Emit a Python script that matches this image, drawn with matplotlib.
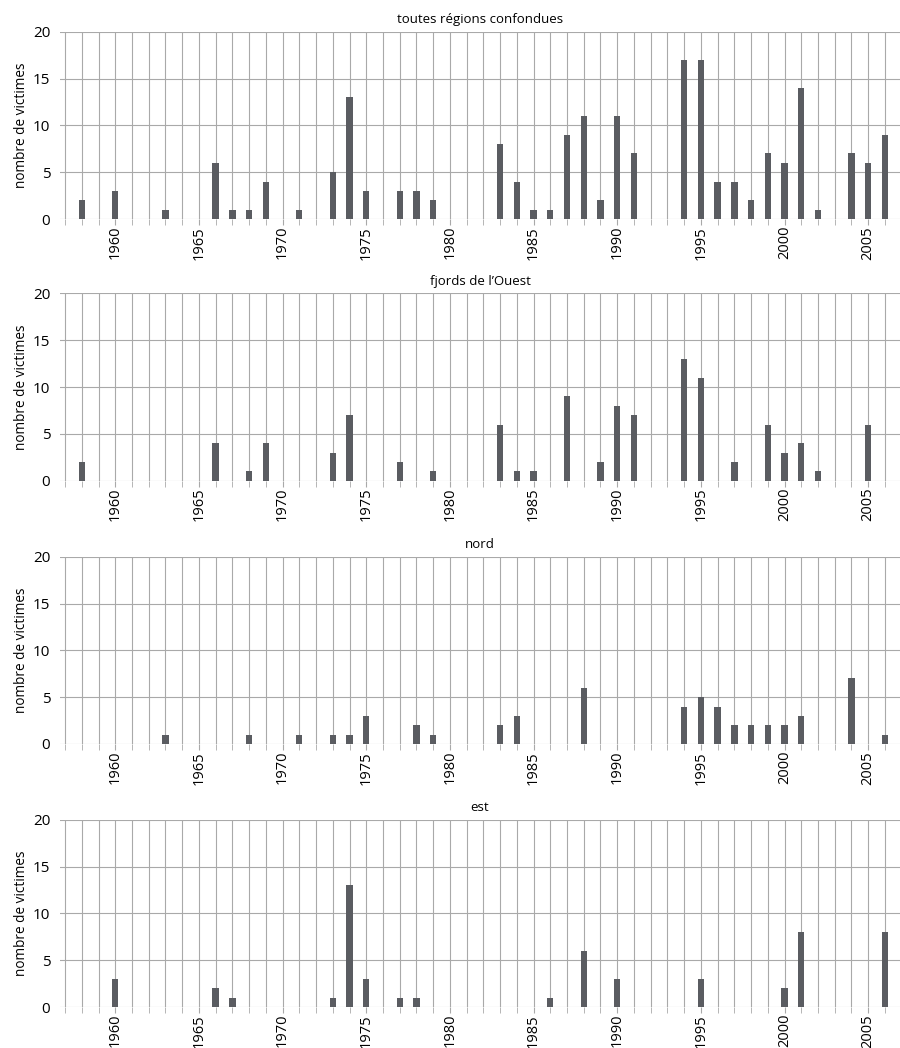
import matplotlib
matplotlib.use("Agg")
import matplotlib.pyplot as plt
import numpy as np

# Data (années -> nombre de victimes)
years_all = [1958, 1960, 1963, 1966, 1967, 1968, 1969, 1971, 1973, 1974, 1975,
             1977, 1978, 1979, 1983, 1984, 1985, 1986, 1987, 1988, 1989, 1990,
             1991, 1994, 1995, 1996, 1997, 1998, 1999, 2000, 2001, 2002, 2004,
             2005, 2006]
vals_all = [2, 3, 1, 6, 1, 1, 4, 1, 5, 13, 3,
            3, 3, 2, 8, 4, 1, 1, 9, 11, 2, 11,
            7, 17, 17, 4, 4, 2, 7, 6, 14, 1, 7,
            6, 9]

years_ouest = [1958, 1966, 1968, 1969, 1973, 1974, 1977, 1979, 1983, 1984, 1985,
               1987, 1989, 1990, 1991, 1994, 1995, 1997, 1999, 2000, 2001, 2002,
               2005]
vals_ouest = [2, 4, 1, 4, 3, 7, 2, 1, 6, 1, 1,
              9, 2, 8, 7, 13, 11, 2, 6, 3, 4, 1,
              6]

years_nord = [1963, 1968, 1971, 1973, 1974, 1975, 1978, 1979, 1983, 1984, 1988,
              1994, 1995, 1996, 1997, 1998, 1999, 2000, 2001, 2004, 2006]
vals_nord = [1, 1, 1, 1, 1, 3, 2, 1, 2, 3, 6,
             4, 5, 4, 2, 2, 2, 2, 3, 7, 1]

years_est = [1960, 1966, 1967, 1973, 1974, 1975, 1977, 1978, 1986, 1988, 1990,
             1995, 2000, 2001, 2006]
vals_est = [3, 2, 1, 1, 13, 3, 1, 1, 1, 6, 3,
            3, 2, 8, 8]

titles = ["toutes régions confondues", "fjords de l\u2019Ouest", "nord", "est"]
panels = [(years_all, vals_all), (years_ouest, vals_ouest),
          (years_nord, vals_nord), (years_est, vals_est)]

plt.rcParams['font.family'] = ['Open Sans', 'DejaVu Sans']

bar_color = "#5a5c61"
grid_color = "#a9a9a9"

fig = plt.figure(figsize=(9, 10.48), dpi=100)
bottoms = [0.791, 0.5413, 0.2901, 0.0391]
height = 0.1787

for (yrs, vals), title, b in zip(panels, titles, bottoms):
    ax = fig.add_axes([0.0667, b, 0.9333, height])
    ax.set_xlim(1956.7, 2006.9)
    ax.set_ylim(0, 20)
    for s in ax.spines.values():
        s.set_visible(False)
    # vertical grid, one line per year
    for yr in range(1957, 2007):
        ax.axvline(yr, color=grid_color, lw=0.8, zorder=0)
    for yv in [0, 5, 10, 15, 20]:
        ax.axhline(yv, color=grid_color, lw=0.8, zorder=0)
    ax.bar(yrs, vals, width=0.38, color=bar_color, zorder=2)
    ax.set_xticks(range(1957, 2007), minor=True)
    ax.set_xticks(range(1960, 2006, 5))
    ax.set_xticklabels([str(y) for y in range(1960, 2006, 5)], rotation=90,
                       fontsize=10.5)
    ax.tick_params(axis='x', which='both', length=4, color=grid_color,
                   direction='out', pad=1)
    ax.set_yticks([0, 5, 10, 15, 20])
    ax.tick_params(axis='y', length=0, pad=7, labelsize=11)
    ax.set_ylabel("nombre de victimes", fontsize=9.8, labelpad=3)
    ax.set_title(title, fontsize=9.5, pad=6)

fig.savefig("out.png", dpi=100)
